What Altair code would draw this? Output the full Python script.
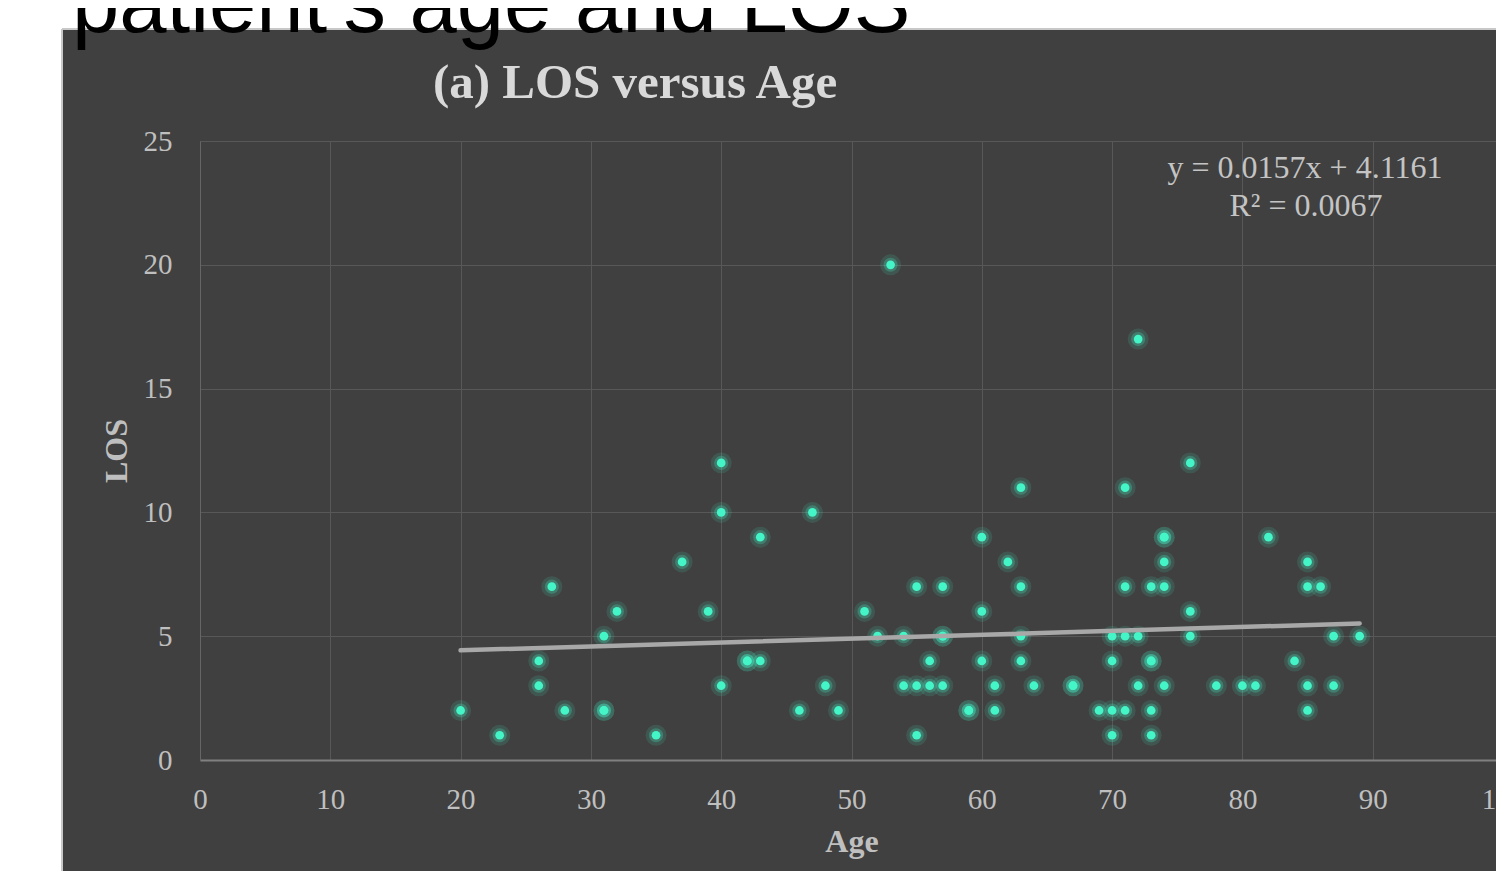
import altair as alt
import pandas as pd

# ---- data ----
age = [20, 23, 26, 26, 27, 28, 31, 31, 31, 32, 35, 37, 39, 40, 40, 40, 42, 42, 43, 43,
       46, 47, 48, 49, 51, 52, 53, 54, 54, 55, 55, 55, 56, 56, 57, 57, 57, 57, 59, 59,
       60, 60, 60, 61, 61, 62, 63, 63, 63, 63, 64, 67, 67, 69, 70, 70, 70, 70, 71, 71,
       71, 71, 72, 72, 72, 73, 73, 73, 73, 73, 74, 74, 74, 74, 74, 76, 76, 76, 78, 80,
       81, 82, 84, 85, 85, 85, 85, 86, 87, 87, 89]
los = [2, 1, 4, 3, 7, 2, 5, 2, 2, 6, 1, 8, 6, 12, 10, 3, 4, 4, 4, 9,
       2, 10, 3, 2, 6, 5, 20, 5, 3, 7, 3, 1, 4, 3, 7, 5, 5, 3, 2, 2,
       9, 6, 4, 3, 2, 8, 11, 7, 5, 4, 3, 3, 3, 2, 5, 4, 2, 1, 11, 7,
       5, 2, 17, 5, 3, 7, 4, 4, 2, 1, 9, 9, 8, 7, 3, 12, 6, 5, 3, 3,
       3, 9, 4, 8, 7, 3, 2, 7, 5, 3, 5]

trend_age = [20, 89]
trend_los = [4.4301, 5.5134]

x_ticks = [0, 10, 20, 30, 40, 50, 60, 70, 80, 90, 100]
y_ticks = [0, 5, 10, 15, 20, 25]

title_text = "(a) LOS versus Age"
heading_text = "patient's age and LOS"
eq_lines = ["y = 0.0157x + 4.1161", "R² = 0.0067"]

# ---- layout ----
W, H = 1303, 619
PAD = {"left": 192, "top": 133, "right": -7, "bottom": 111}
SERIF = "Liberation Serif"
DOT = "#44f5c7"

df = pd.DataFrame({"Age": age, "LOS": los})
trend = pd.DataFrame({"Age": trend_age, "LOS": trend_los})
one = pd.DataFrame({"k": [0]})

xs = alt.Scale(domain=[0, 100], nice=False, zero=False)
ys = alt.Scale(domain=[0, 25], nice=False)

x_axis = alt.Axis(values=x_ticks, title="Age", labelFlush=False, labelOverlap=False,
                  labelBound=False, labelPadding=25, titlePadding=12,
                  domainColor="#808080", domainWidth=2)
y_axis = alt.Axis(values=y_ticks, title="LOS", labelPadding=28, titlePadding=10,
                  domainColor="#666666", domainWidth=1)

base = alt.Chart(df)

glow1 = base.mark_circle(size=440, opacity=0.13, color=DOT).encode(
    x=alt.X("Age:Q", scale=xs, axis=x_axis), y=alt.Y("LOS:Q", scale=ys, axis=y_axis))
glow2 = base.mark_circle(size=200, opacity=0.25, color=DOT).encode(
    x=alt.X("Age:Q", scale=xs), y=alt.Y("LOS:Q", scale=ys))
core = base.mark_circle(size=76, opacity=1, color=DOT).encode(
    x=alt.X("Age:Q", scale=xs), y=alt.Y("LOS:Q", scale=ys))

line = alt.Chart(trend).mark_line(color="#a8a8a8", strokeWidth=4.5, strokeCap="round").encode(
    x=alt.X("Age:Q", scale=xs), y=alt.Y("LOS:Q", scale=ys))

# white page area outside the dark chart frame (frame starts at page x=62, y=29)
top_white = alt.Chart(one).mark_rect(color="white").encode(
    x=alt.value(-200), x2=alt.value(W + 10), y=alt.value(-140), y2=alt.value(-112))
left_white = alt.Chart(one).mark_rect(color="white").encode(
    x=alt.value(-200), x2=alt.value(-138), y=alt.value(-140), y2=alt.value(H + 130))
edge_top = alt.Chart(one).mark_rule(color="#c8c8c8", strokeWidth=2).encode(
    x=alt.value(-138), x2=alt.value(W + 10), y=alt.value(-112))
edge_left = alt.Chart(one).mark_rule(color="#c8c8c8", strokeWidth=2).encode(
    x=alt.value(-138), y=alt.value(-112), y2=alt.value(H + 130))

heading = alt.Chart(one).mark_text(font="Liberation Sans", fontSize=85, color="black",
                                   align="left", baseline="alphabetic").encode(
    x=alt.value(-128), y=alt.value(-109), text=alt.value(heading_text))

title = alt.Chart(one).mark_text(font=SERIF, fontSize=49, fontWeight="bold", color="#d9d9d9",
                                 align="center", baseline="alphabetic").encode(
    x=alt.value(435), y=alt.value(-43), text=alt.value(title_text))

eq1 = alt.Chart(one).mark_text(font=SERIF, fontSize=32, color="#c4c4c4",
                               align="center", baseline="alphabetic").encode(
    x=alt.value(1105), y=alt.value(37), text=alt.value(eq_lines[0]))
eq2 = alt.Chart(one).mark_text(font=SERIF, fontSize=32, color="#c4c4c4",
                               align="center", baseline="alphabetic").encode(
    x=alt.value(1106), y=alt.value(75), text=alt.value(eq_lines[1]))

chart = alt.layer(
    glow1, glow2, core, line, top_white, left_white, edge_top, edge_left,
    title, eq1, eq2, heading
).properties(
    width=W, height=H,
    autosize=alt.AutoSizeParams(type="none"),
    padding=PAD,
    background="#404040",
).configure_view(
    stroke=None
).configure_axis(
    grid=True, gridColor="#585858", gridWidth=1, ticks=False,
    labelFont=SERIF, labelFontSize=29, labelColor="#bfbfbf",
    titleFont=SERIF, titleFontSize=32, titleFontWeight="bold", titleColor="#bfbfbf",
)

chart.save("out.html", embed_options={"renderer": "svg", "actions": False})
